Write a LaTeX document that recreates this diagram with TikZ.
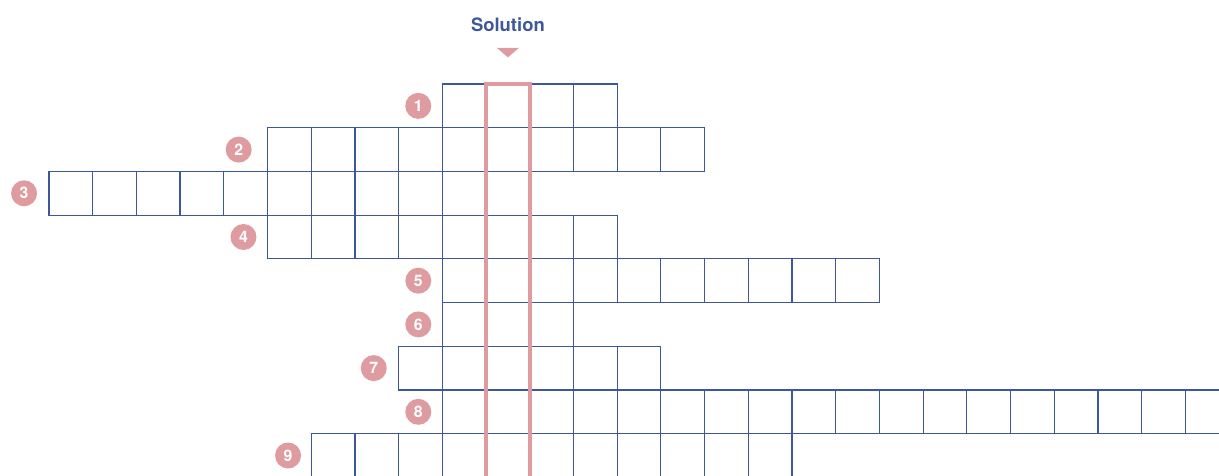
\documentclass[tikz,border=0pt]{standalone}
\usepackage{fontspec}
\setsansfont{TeX Gyre Heros}
\usetikzlibrary{positioning}
\definecolor{gridblue}{RGB}{62,86,156}
\definecolor{solpink}{RGB}{222,156,161}

\begin{document}
\begin{tikzpicture}[x=0.874cm,y=-0.874cm,
  cellbox/.style={rectangle,draw=gridblue,line width=0.7pt,minimum size=0.874cm,
                  inner sep=0pt,outer sep=0pt},
  numdot/.style={circle,fill=solpink,text=white,font=\sffamily\bfseries\small,
                 minimum size=0.52cm,inner sep=0pt},
  soltitle/.style={font=\sffamily\bfseries\fontsize{10.5}{12}\selectfont,text=gridblue},
  solcol/.style={draw=solpink,line width=2.3pt}
]
\useasboundingbox (-1.121,-1.922) rectangle (26.77,8.947);
\clip (-1.121,-1.922) rectangle (26.77,8.947);
\foreach \r/\s/\n/\d in {1/9/4/0.55,2/5/10/0.66,3/0/11/0.57,4/5/8/0.55,5/9/10/0.55,
                         6/9/3/0.55,7/8/6/0.57,8/9/19/0.55,9/6/11/0.53}{
  \foreach \k in {1,...,\n}
    \node[cellbox] (r\r-\k) at ({\s+\k-0.5},{\r-0.5}) {};
  \node[numdot] (n\r) at ({\s-\d},{\r-0.5}) {\r};
}
\node[soltitle] (soltext) at (10.5,-1.35) {Solution};
\fill[solpink] (10.25,-0.824) -- (10.75,-0.824) -- (10.5,-0.61) -- cycle;
\draw[solcol] ([yshift=-0.3cm]r9-5.south west) |- (r1-2.north) -| ([yshift=-0.3cm]r9-5.south east);
\end{tikzpicture}
\end{document}
